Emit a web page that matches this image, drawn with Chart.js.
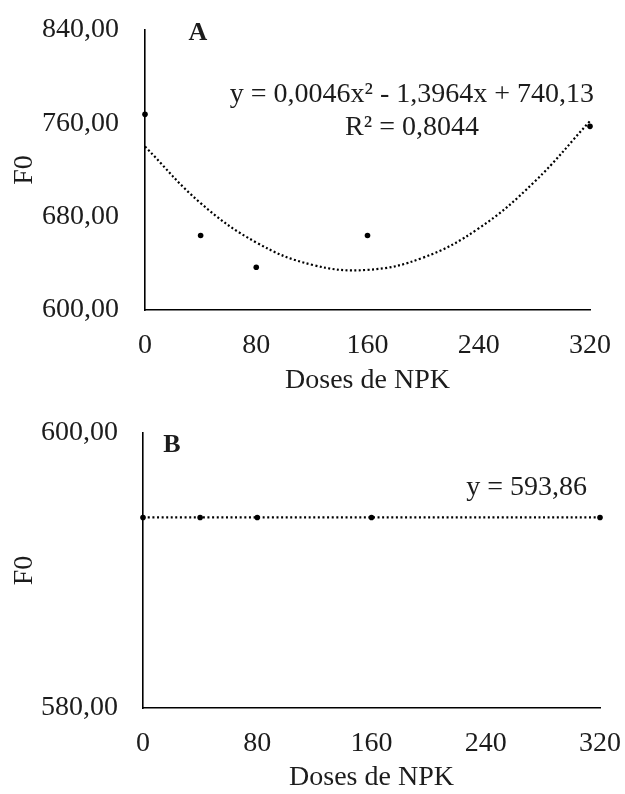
<!DOCTYPE html>
<html>
<head>
<meta charset="utf-8">
<script src="https://cdn.jsdelivr.net/npm/chart.js@4.4.1/dist/chart.umd.min.js"></script>
<style>
  html, body { margin: 0; padding: 0; background: #ffffff; }
  .box { width: 625px; height: 397px; position: relative; }
  canvas { display: block; }
</style>
</head>
<body>
<div class="box"><canvas id="chartA" width="625" height="397"></canvas></div>
<div class="box"><canvas id="chartB" width="625" height="397"></canvas></div>
<script>
// ---------- data ----------
const doses = [0, 40, 80, 160, 320];
const f0A = [767.7, 663.8, 636.6, 663.8, 757.4];
const f0B = [593.86, 593.86, 593.86, 593.86, 593.86];

const trendXA = [0, 40, 80, 120, 160, 200, 240, 280, 320];
const trendYA = [740.1, 691.6, 657.9, 638.8, 634.4, 644.9, 670.0, 709.8, 762.0];
const trendXB = [0, 320];
const trendYB = [593.86, 593.86];

// ticks
const xTickValues = [0, 80, 160, 240, 320];
const xTickLabels = ['0', '80', '160', '240', '320'];
const yTickValuesA = [600, 680, 760, 840];
const yTickLabelsA = ['600,00', '680,00', '760,00', '840,00'];
const yTickValuesB = [580, 600];
const yTickLabelsB = ['580,00', '600,00'];

const eqA1 = 'y = 0,0046x² - 1,3964x + 740,13';
const eqA2 = 'R² = 0,8044';
const eqB = 'y = 593,86';
const xTitle = 'Doses de NPK';
const yTitle = 'F0';

// ---------- helpers ----------
const SERIF = "'Liberation Serif', 'Times New Roman', serif";
const TXT = '#1c1c1c';
const FS = 28;

function pts(xs, ys) { return xs.map((x, i) => ({ x: x, y: ys[i] })); }

function annotPlugin(id, items) {
  return {
    id: id,
    afterDraw(chart) {
      const ctx = chart.ctx;
      ctx.save();
      ctx.fillStyle = TXT;
      ctx.textBaseline = 'middle';
      items.forEach(it => {
        ctx.font = it.font;
        ctx.textAlign = it.align;
        ctx.fillText(it.text, it.x, it.y);
      });
      ctx.restore();
    }
  };
}

function makeChart(canvasId, cfg) {
  const ctx = document.getElementById(canvasId).getContext('2d');
  return new Chart(ctx, {
    type: 'scatter',
    data: {
      datasets: [
        {
          label: 'trend',
          data: pts(cfg.trendX, cfg.trendY),
          showLine: true,
          borderColor: '#000',
          borderWidth: 2.2,
          borderDash: cfg.dash,
          pointRadius: 0,
          tension: 0.4,
          fill: false,
          clip: false,
          order: 2
        },
        {
          label: 'F0',
          data: pts(doses, cfg.values),
          showLine: false,
          pointRadius: 2.8,
          pointBackgroundColor: '#000',
          pointBorderWidth: 0,
          clip: false,
          order: 1
        }
      ]
    },
    options: {
      responsive: false,
      animation: false,
      devicePixelRatio: 1,
      layout: { padding: { left: 0, right: cfg.padRight, top: cfg.padTop, bottom: 0 } },
      plugins: { legend: { display: false }, tooltip: { enabled: false } },
      scales: {
        x: {
          type: 'linear',
          min: 0, max: 320,
          afterBuildTicks: s => { s.ticks = xTickValues.map(v => ({ value: v })); },
          afterFit: s => { s.height = cfg.xHeight; s.paddingLeft = 0; s.paddingRight = 0; },
          grid: { display: false, drawTicks: false, tickLength: 0 },
          border: { display: true, color: '#000', width: 1.6 },
          ticks: {
            padding: 19,
            color: TXT,
            font: { family: SERIF, size: FS },
            maxRotation: 0,
            callback: (v) => xTickLabels[xTickValues.indexOf(v)]
          },
          title: {
            display: true, text: xTitle, color: TXT,
            font: { family: SERIF, size: FS },
            padding: { top: 0, bottom: 0 }
          }
        },
        y: {
          type: 'linear',
          min: cfg.yMin, max: cfg.yMax,
          afterBuildTicks: s => { s.ticks = cfg.yTickValues.map(v => ({ value: v })); },
          afterFit: s => { s.width = cfg.yWidth; s.paddingTop = 0; s.paddingBottom = 0; },
          grid: { display: false, drawTicks: false, tickLength: 0 },
          border: { display: true, color: '#000', width: 1.6 },
          ticks: {
            padding: cfg.yPad,
            color: TXT,
            font: { family: SERIF, size: FS },
            callback: (v) => cfg.yTickLabels[cfg.yTickValues.indexOf(v)]
          },
          title: {
            display: true, text: yTitle, color: TXT,
            font: { family: SERIF, size: FS },
            padding: { top: 8, bottom: 0 }
          }
        }
      }
    },
    plugins: [annotPlugin(canvasId + 'ann', cfg.annotations)]
  });
}

makeChart('chartA', {
  values: f0A, trendX: trendXA, trendY: trendYA, dash: [2, 2.4],
  yMin: 600, yMax: 840, yTickValues: yTickValuesA, yTickLabels: yTickLabelsA,
  padRight: 35, padTop: 30, xHeight: 87, yWidth: 145, yPad: 26,
  annotations: [
    { text: 'A', x: 198, y: 33, align: 'center', font: "bold 26px " + SERIF },
    { text: eqA1, x: 594, y: 95, align: 'right', font: "28px " + SERIF },
    { text: eqA2, x: 412, y: 128, align: 'center', font: "28px " + SERIF }
  ]
});

makeChart('chartB', {
  values: f0B, trendX: trendXB, trendY: trendYB, dash: [2, 2.6],
  yMin: 580, yMax: 600, yTickValues: yTickValuesB, yTickLabels: yTickLabelsB,
  padRight: 25, padTop: 36, xHeight: 86, yWidth: 143, yPad: 25,
  annotations: [
    { text: 'B', x: 172, y: 48, align: 'center', font: "bold 26px " + SERIF },
    { text: eqB, x: 587, y: 91, align: 'right', font: "28px " + SERIF }
  ]
});
</script>
</body>
</html>
